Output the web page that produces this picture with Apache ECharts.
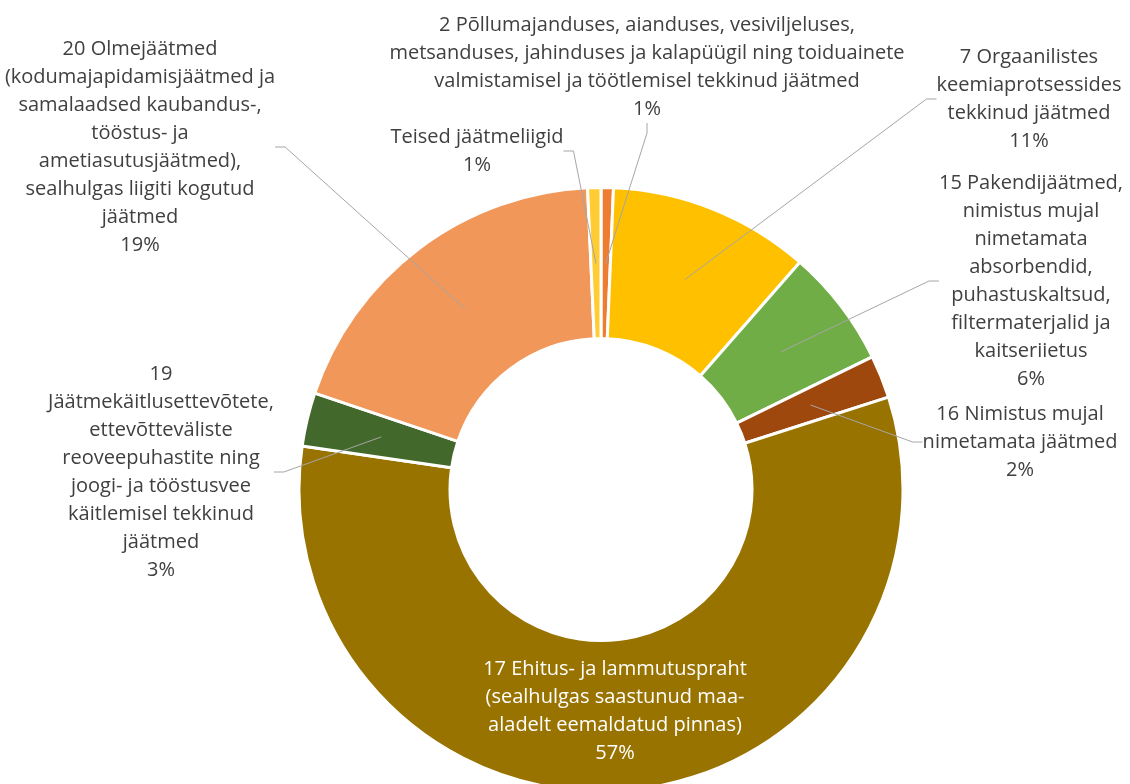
<!DOCTYPE html>
<html>
<head>
<meta charset="utf-8">
<script src="https://cdn.jsdelivr.net/npm/echarts@6/dist/echarts.min.js"></script>
<style>
  html, body { margin: 0; padding: 0; background: #fff; }
  #chart { width: 1130px; height: 784px; }
</style>
</head>
<body>
<div id="chart"></div>
<script>
// Categories (clockwise from 12 o'clock), text as wrapped in the reference
const categories = [
  "2 Põllumajanduses, aianduses, vesiviljeluses,\nmetsanduses, jahinduses ja kalapüügil ning toiduainete\nvalmistamisel ja töötlemisel tekkinud jäätmed",
  "7 Orgaanilistes\nkeemiaprotsessides\ntekkinud jäätmed",
  "15 Pakendijäätmed,\nnimistus mujal\nnimetamata\nabsorbendid,\npuhastuskaltsud,\nfiltermaterjalid ja\nkaitseriietus",
  "16 Nimistus mujal\nnimetamata jäätmed",
  "17 Ehitus- ja lammutuspraht\n(sealhulgas saastunud maa-\naladelt eemaldatud pinnas)",
  "19\nJäätmekäitlusettevõtete,\nettevõtteväliste\nreoveepuhastite ning\njoogi- ja tööstusvee\nkäitlemisel tekkinud\njäätmed",
  "20 Olmejäätmed\n(kodumajapidamisjäätmed ja\nsamalaadsed kaubandus-,\ntööstus- ja\nametiasutusjäätmed),\nsealhulgas liigiti kogutud\njäätmed",
  "Teised jäätmeliigid"
];
// Shares in percent
const shares = [0.66, 10.78, 6.32, 2.29, 57.25, 2.87, 19.12, 0.71];

// Styling / layout (kept separate from data)
const colors = ['#ED7D31', '#FFC000', '#70AD47', '#9E480E', '#997300', '#43682B', '#F1975A', '#FFCD33'];
const labelPos = [[647, 67], [1029, 99], [1031, 281], [1020, 442], [615, 711], [161, 472], [140, 147], [477, 151]];
const insideLabel = [false, false, false, false, true, false, false, false];

const FONT = '"Open Sans", "Noto Sans", sans-serif';
const center = [601, 489.5];

const chart = echarts.init(document.getElementById('chart'), null, { renderer: 'canvas' });

const mainData = categories.map((c, i) => ({
  name: c, value: shares[i], itemStyle: { color: colors[i] }
}));
const labelData = categories.map((c, i) => ({
  name: c, value: shares[i],
  itemStyle: { color: 'rgba(0,0,0,0)', borderWidth: 0 },
  label: { color: insideLabel[i] ? '#FFFFFF' : '#404040' },
  labelLine: { show: !insideLabel[i] }
}));

chart.setOption({
  animation: false,
  backgroundColor: '#ffffff',
  series: [
    {
      type: 'pie',
      z: 2,
      center: center,
      radius: [151, 302],
      startAngle: 90,
      clockwise: true,
      silent: true,
      avoidLabelOverlap: false,
      itemStyle: { borderColor: '#ffffff', borderWidth: 3 },
      label: { show: false },
      labelLine: { show: false },
      emphasis: { disabled: true },
      data: mainData
    },
    {
      type: 'pie',
      z: 5,
      center: center,
      radius: [0, 226],
      startAngle: 90,
      clockwise: true,
      silent: true,
      avoidLabelOverlap: false,
      percentPrecision: 0,
      emphasis: { disabled: true },
      label: {
        show: true,
        position: 'outside',
        formatter: '{b}\n{d}%',
        fontFamily: FONT,
        fontSize: 20,
        lineHeight: 28,
        color: '#404040',
        align: 'center',
        overflow: 'none'
      },
      labelLine: {
        show: true,
        length: 10,
        length2: 10,
        minTurnAngle: 0,
        lineStyle: { color: '#A6A6A6', width: 1 }
      },
      labelLayout: function (params) {
        if (params.seriesIndex !== 1) return {};
        const p = labelPos[params.dataIndex];
        return { x: p[0], y: p[1], align: 'center', verticalAlign: 'middle' };
      },
      data: labelData
    }
  ]
});
</script>
</body>
</html>
